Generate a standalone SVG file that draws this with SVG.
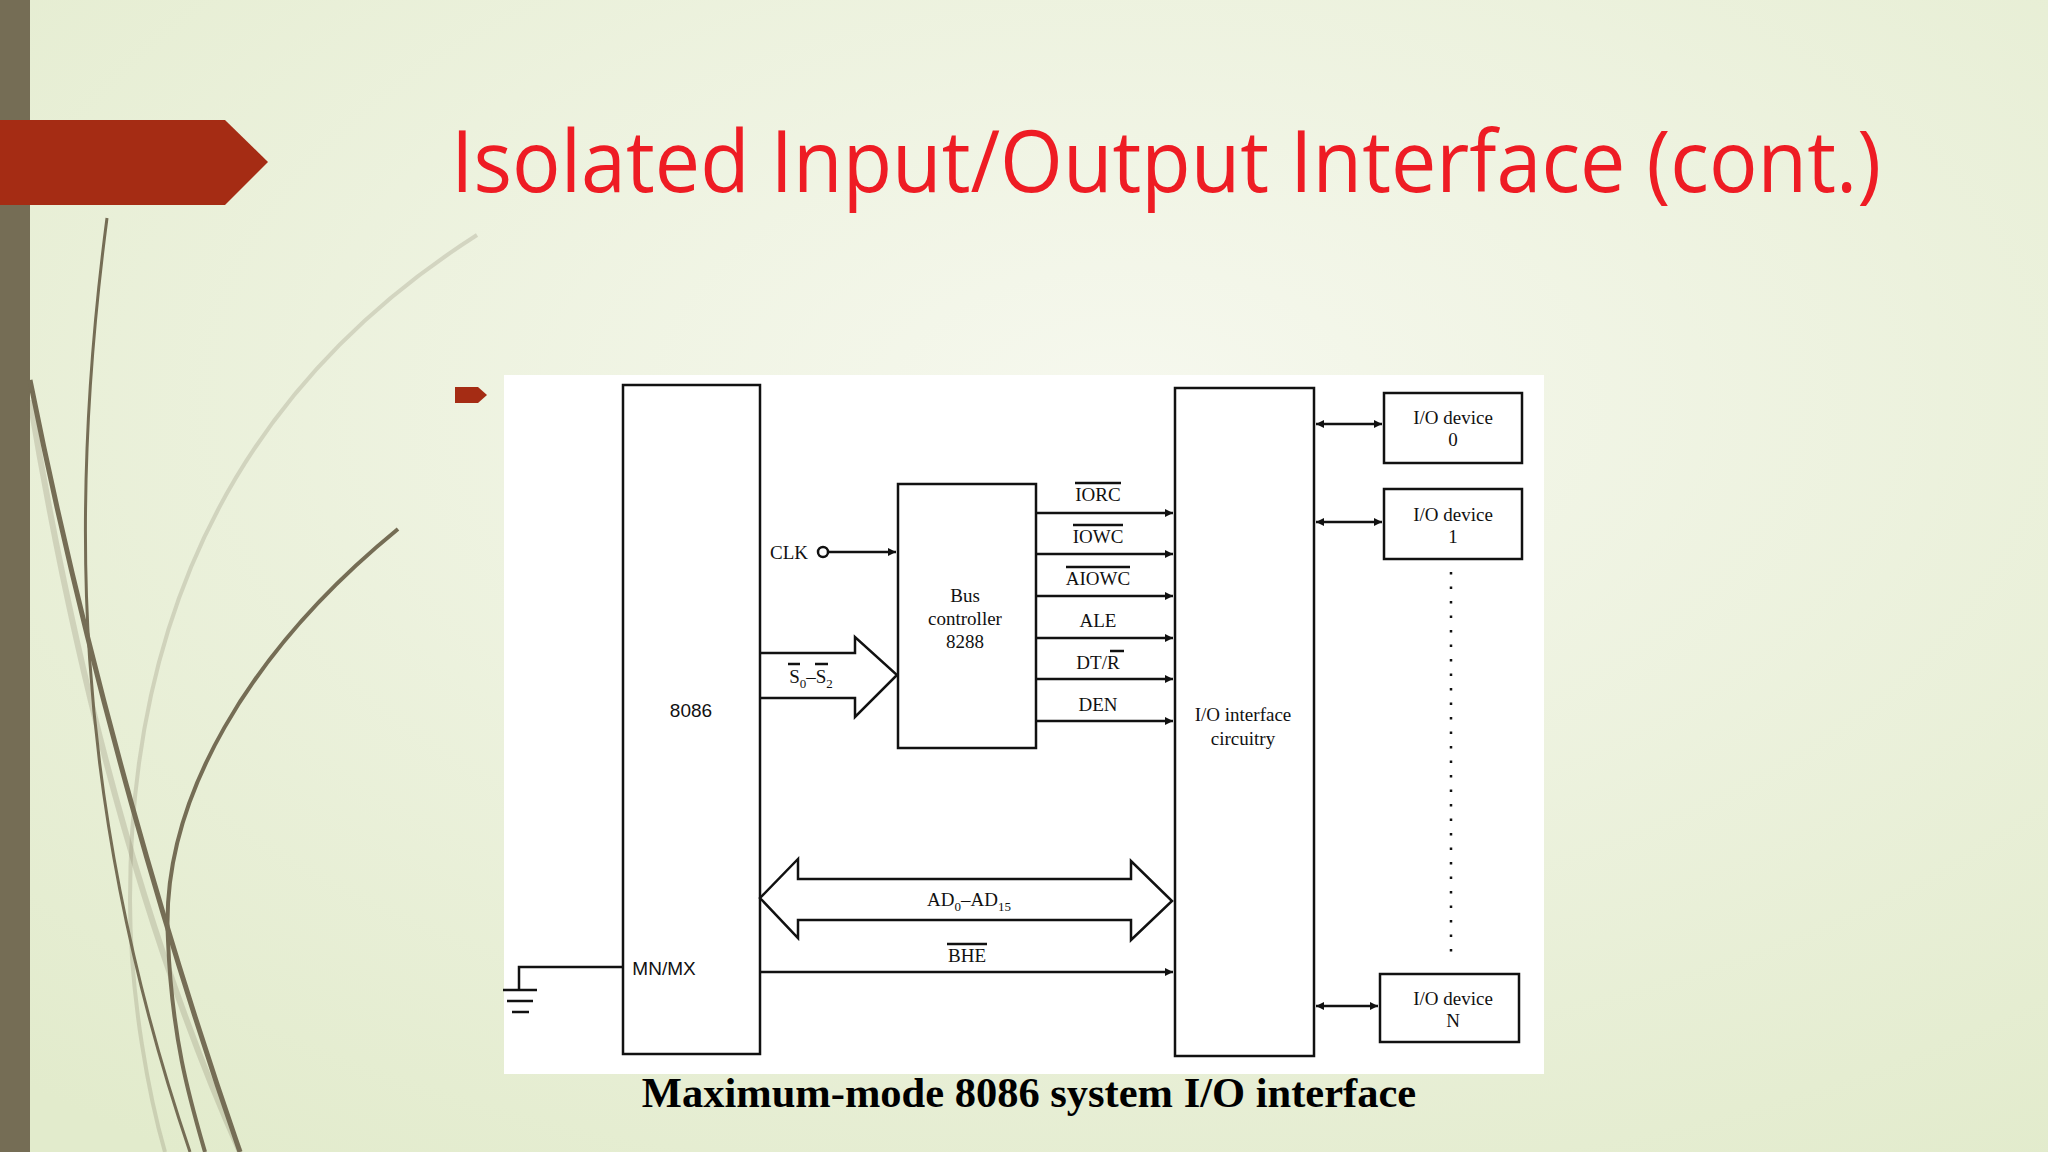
<svg xmlns="http://www.w3.org/2000/svg" width="2048" height="1152" viewBox="0 0 2048 1152">
<defs>
<radialGradient id="bg" cx="0.55" cy="0.35" r="0.8">
<stop offset="0" stop-color="#f6f8ee"/><stop offset="1" stop-color="#e2ebcc"/>
</radialGradient>
<marker id="ah" viewBox="0 0 10 10" refX="10" refY="5" markerWidth="10" markerHeight="8" markerUnits="userSpaceOnUse" orient="auto-start-reverse"><path d="M0,0 L10,5 L0,10 z" fill="#111"/></marker>
<style>
.bx{fill:#fff;stroke:#111;stroke-width:2.5}
.ln{stroke:#111;stroke-width:2.5;fill:none}
.t{font-family:"Liberation Serif",serif;font-size:19px;fill:#111;text-anchor:middle}
.ts{font-family:"Liberation Sans",sans-serif;font-size:19px;fill:#111;text-anchor:middle}
.cv{fill:none;stroke:#756d55}
</style>
</defs>
<rect width="2048" height="1152" fill="url(#bg)"/>
<rect width="30" height="1152" fill="#756d55"/>
<g class="cv">
<path d="M30,400 C80,700 150,950 240,1152" stroke-width="6" opacity="0.22"/>
<path d="M477,235 C250,380 130,600 130,900 C130,1000 150,1100 165,1152" stroke-width="4" opacity="0.22"/>
<path d="M107,218 C70,500 70,800 190,1152" stroke-width="3"/>
<path d="M30,380 C90,680 170,950 240,1152" stroke-width="5"/>
<path d="M398,529 C250,650 160,800 168,940 C172,1040 190,1100 205,1152" stroke-width="4"/>
</g>
<path d="M0,120 L225,120 L268,162 L225,205 L0,205 z" fill="#a52c14"/>
<path d="M455,387 L478,387 L487,395 L478,403 L455,403 z" fill="#a52c14"/>
<text x="451" y="192" font-family="'Open Sans','Liberation Sans',sans-serif" font-size="86" fill="#ee1c24" textLength="1430" lengthAdjust="spacingAndGlyphs">Isolated Input/Output Interface (cont.)</text>
<rect x="504" y="375" width="1040" height="699" fill="#fff"/>
<g id="cpu"><rect class="bx" x="623" y="385" width="137" height="669"/><text class="ts" x="691" y="717">8086</text><text class="ts" x="664" y="975">MN/MX</text></g>
<g id="bus"><rect class="bx" x="898" y="484" width="138" height="264"/><text class="t" x="965" y="602">Bus</text><text class="t" x="965" y="625">controller</text><text class="t" x="965" y="648">8288</text></g>
<g id="ioi"><rect class="bx" x="1175" y="388" width="139" height="668"/><text class="t" x="1243" y="721">I/O interface</text><text class="t" x="1243" y="745">circuitry</text></g>
<g id="dev0"><rect class="bx" x="1384" y="393" width="138" height="70"/><text class="t" x="1453" y="424">I/O device</text><text class="t" x="1453" y="446">0</text></g>
<g id="dev1"><rect class="bx" x="1384" y="489" width="138" height="70"/><text class="t" x="1453" y="521">I/O device</text><text class="t" x="1453" y="543">1</text></g>
<g id="devN"><rect class="bx" x="1380" y="974" width="139" height="68"/><text class="t" x="1453" y="1005">I/O device</text><text class="t" x="1453" y="1027">N</text></g>
<g id="connectors">
<g class="ln" marker-end="url(#ah)">
<path d="M1036,513 H1173"/><path d="M1036,554 H1173"/><path d="M1036,596 H1173"/><path d="M1036,638 H1173"/><path d="M1036,679 H1173"/><path d="M1036,721 H1173"/>
<path d="M828,552 H896"/>
<path d="M760,972 H1173"/>
</g>
<g class="ln" marker-start="url(#ah)" marker-end="url(#ah)">
<path d="M1316,424 H1382"/><path d="M1316,522 H1382"/><path d="M1316,1006 H1378"/>
</g>
<circle cx="823" cy="552" r="5" fill="#fff" stroke="#111" stroke-width="2.5"/>
<path class="ln" d="M760,653 H855 V637 L897,675 L855,717 V698 H760"/>
<path class="ln" d="M760,898 L798,859 V879 H1131 V861 L1172,901 L1131,940 V920 H798 V938 Z"/>
<path class="ln" d="M623,967 H519 V990"/>
<path class="ln" d="M503,990 H537 M507,1001 H533 M512,1012 H529" stroke-width="2"/>
<path class="ln" d="M1451,572 V962" stroke-dasharray="2.5 12" stroke-width="3.5"/>
</g>
<g id="labels">
<text class="t" x="1098" y="501">IORC</text><path class="ln" d="M1075,483 H1121" stroke-width="1.5"/>
<text class="t" x="1098" y="543">IOWC</text><path class="ln" d="M1073,525 H1123" stroke-width="1.5"/>
<text class="t" x="1098" y="585">AIOWC</text><path class="ln" d="M1066,567 H1130" stroke-width="1.5"/>
<text class="t" x="1098" y="627">ALE</text>
<text class="t" x="1098" y="669">DT/R</text><path class="ln" d="M1110,651 H1124" stroke-width="1.5"/>
<text class="t" x="1098" y="711">DEN</text>
<text class="t" x="789" y="559">CLK</text>
<text class="t" x="811" y="683">S<tspan font-size="13" dy="5">0</tspan><tspan dy="-5">–S</tspan><tspan font-size="13" dy="5">2</tspan></text>
<path class="ln" d="M788,664 H800 M815,664 H828" stroke-width="1.5"/>
<text class="t" x="969" y="906">AD<tspan font-size="13" dy="5">0</tspan><tspan dy="-5">–AD</tspan><tspan font-size="13" dy="5">15</tspan></text>
<text class="t" x="967" y="962">BHE</text><path class="ln" d="M947,944 H987" stroke-width="1.5"/>
</g>
<text x="1029" y="1107" font-family="'Liberation Serif',serif" font-weight="bold" font-size="42.5" fill="#000" text-anchor="middle">Maximum-mode 8086 system I/O interface</text>
</svg>
